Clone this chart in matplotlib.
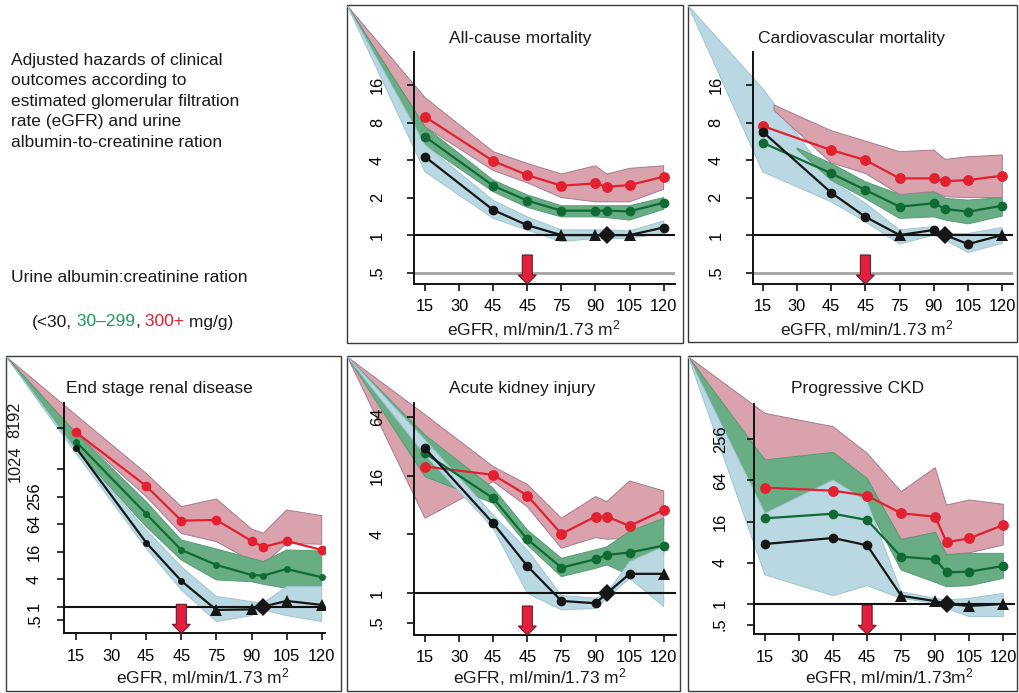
import numpy as np
import matplotlib
matplotlib.use('Agg')
import matplotlib.pyplot as plt
from matplotlib.patches import Polygon, Rectangle
from matplotlib.ticker import NullLocator, FixedLocator, FixedFormatter

plt.rcParams['font.family'] = ['Liberation Sans', 'DejaVu Sans']
plt.rcParams['mathtext.fontset'] = 'custom'
plt.rcParams['mathtext.rm'] = 'Liberation Sans'
plt.rcParams['mathtext.it'] = 'Liberation Sans:italic'

# ---------------- data ----------------
egfr = [15, 45, 60, 75, 90, 95, 105, 120]
xtick_vals = [15, 30, 45, 60, 75, 90, 105, 120]
xtick_labels = ['15', '30', '45', '45', '75', '90', '105', '120']

# All-cause mortality
ac_red = [8.9, 3.93, 3.03, 2.49, 2.6, 2.44, 2.52, 2.94]
ac_green = [6.16, 2.49, 1.89, 1.57, 1.57, 1.57, 1.55, 1.82]
ac_black = [4.25, 1.59, 1.2, 1.0, 1.0, 1.0, 1.0, 1.15]
ac_black_mk = ['o', 'o', 'o', '^', '^', 'D', '^', 'o']
ac_pink_hi = [12.7, 4.67, 3.76, 3.09, 3.6, 3.09, 3.43, 3.6]
ac_pink_lo = [7.4, 3.3, 2.63, 2.0, 1.85, 1.85, 1.85, 2.33]
ac_grn_hi = [7.4, 2.76, 2.1, 1.72, 1.72, 1.72, 1.72, 2.0]
ac_grn_lo = [5.28, 2.23, 1.67, 1.4, 1.4, 1.38, 1.32, 1.61]
ac_blue_hi = [5.3, 1.9, 1.4, 1.1, 1.1, 1.1, 1.08, 1.3]
ac_blue_lo = [3.22, 1.36, 1.1, 0.885, 0.94, 0.94, 0.94, 1.03]

# Cardiovascular mortality
cv_red = [7.5, 4.81, 4.0, 2.85, 2.85, 2.71, 2.76, 3.0]
cv_green = [5.51, 3.13, 2.3, 1.69, 1.8, 1.62, 1.54, 1.72]
cv_black = [6.75, 2.19, 1.4, 1.0, 1.1, 1.0, 0.847, 1.0]
cv_black_mk = ['o', 'o', 'o', '^', 'o', 'D', 'o', '^']
cv_pink_x = [20, 45, 60, 75, 90, 95, 105, 120]
cv_pink_hi = [11.05, 6.88, 5.68, 4.67, 4.81, 4.05, 4.25, 4.39]
cv_pink_lo = [10.0, 3.8, 3.13, 2.12, 2.23, 2.03, 2.0, 2.0]
cv_grn_x = [30, 45, 60, 75, 90, 95, 105, 120]
cv_grn_hi = [5.0, 3.76, 2.68, 2.12, 2.23, 1.97, 1.91, 2.0]
cv_grn_lo = [4.9, 2.76, 1.97, 1.36, 1.4, 1.32, 1.23, 1.42]
cv_blue_hi = [15.0, 2.76, 1.8, 1.1, 1.17, 1.03, 1.03, 1.15]
cv_blue_lo = [3.22, 1.85, 1.28, 0.847, 1.0, 0.91, 0.726, 0.857]

# End stage renal disease
es_red = [6560, 438, 76.4, 79, 27.4, 20.2, 27.4, 17.4]
es_green = [4096, 107, 17.4, 8.17, 4.93, 4.77, 6.67, 4.39]
es_black = [3030, 25.2, 3.65, 0.845, 0.87, 1.0, 1.33, 1.09]
es_black_mk = ['o', 'o', 'o', '^', '^', 'D', '^', '^']
es_pink_hi = [15700, 830, 155, 228, 50, 40.3, 131, 98]
es_pink_lo = [6300, 256, 40, 26.5, 10, 8.2, 24.3, 23.2]
es_grn_hi = [6300, 199, 28.8, 18.3, 11.4, 9.7, 17.4, 16.5]
es_grn_lo = [2690, 56.4, 10.5, 3.84, 3.5, 3.08, 2.52, 2.74]
es_blue_hi = [2690, 47.7, 7.5, 1.66, 1.29, 1.18, 2.74, 2.74]
es_blue_lo = [2270, 18.9, 2.32, 0.47, 0.635, 0.85, 0.635, 0.47]

# Acute kidney injury
ak_red = [19.8, 16.3, 10.0, 4.05, 6.09, 6.09, 4.89, 7.12]
ak_green = [27.1, 9.38, 3.57, 1.83, 2.23, 2.47, 2.61, 3.08]
ak_black = [30.4, 5.2, 1.9, 0.835, 0.79, 1.0, 1.58, 1.58]
ak_black_mk = ['o', 'o', 'o', 'o', 'o', 'D', 'o', '^']
ak_pink_hi = [67.3, 19.8, 13.0, 5.86, 9.76, 8.67, 14.1, 11.15]
ak_pink_lo = [5.86, 13.9, 7.7, 2.89, 3.71, 3.57, 3.66, 5.0]
ak_grn_hi = [41.7, 11.9, 4.45, 2.28, 2.78, 2.99, 4.3, 5.86]
ak_grn_lo = [15.6, 8.34, 3.12, 1.48, 1.8, 1.95, 1.54, 2.47]
ak_blue_hi = [37.1, 6.33, 2.77, 0.95, 0.89, 1.0, 2.11, 3.0]
ak_blue_lo = [26.0, 4.63, 1.0, 0.675, 0.70, 0.89, 1.42, 0.73]

# Progressive CKD
pc_red = [50.3, 45.4, 38.4, 21.2, 18.9, 8.0, 9.13, 14.3]
pc_green = [17.9, 20.9, 16.9, 4.92, 4.5, 2.9, 2.97, 3.6]
pc_black = [7.54, 9.23, 7.21, 1.32, 1.1, 1.0, 0.935, 1.0]
pc_black_mk = ['o', 'o', 'o', '^', '^', 'D', '^', '^']
pc_pink_hi = [614, 392, 160, 43.9, 98.6, 28, 33.2, 28.7]
pc_pink_lo = [120, 150, 62, 8.9, 11.0, 5.3, 5.6, 7.29]
pc_grn_hi = [128, 165, 68.8, 8.63, 11.2, 5.21, 5.5, 5.5]
pc_grn_lo = [21.2, 65, 28, 3.14, 2.07, 1.79, 1.85, 2.37]
pc_blue_hi = [21.2, 65, 31.4, 1.51, 1.21, 1.14, 1.21, 1.43]
pc_blue_lo = [2.66, 1.32, 1.85, 1.21, 1.02, 0.86, 0.653, 0.653]

# ---------------- style ----------------
W, H = 1020, 693
C_RED, C_GRN, C_BLK = '#e3202f', '#0f6a34', '#161616'
B_PINK, B_GRN, B_BLUE = '#d9a2ad', '#69ad85', '#b9d8e2'
E_PINK, E_GRN, E_BLUE = '#a57a90', '#559c72', '#9fc5d3'

fig = plt.figure(figsize=(W / 100, H / 100), dpi=100)


def fx(x):
    return x / W


def fy(y):
    return 1 - y / H


panels = [
    dict(title='All-cause mortality', xlabel='eGFR, ml/min/1.73 m$^2$',
         box=(347, 5, 683, 343), axes=(414, 52, 675, 284), xlim=(10.16, 125.0),
         ylim=(0.405, 29.45), yt=[0.5, 1, 2, 4, 8, 16], ytl=['.5', '1', '2', '4', '8', '16'],
         gray=True, tpos=(520, 43.5), xlpos=(534, 335.5), ypad=16, small=False,
         red=ac_red, green=ac_green, black=ac_black, mk=ac_black_mk,
         bands=[('p', egfr, ac_pink_lo, ac_pink_hi, True),
                ('g', egfr, ac_grn_lo, ac_grn_hi, True),
                ('b', egfr, ac_blue_lo, ac_blue_hi, True)]),
    dict(title='Cardiovascular mortality', xlabel='eGFR, ml/min/1.73 m$^2$',
         box=(688, 5, 1017, 342), axes=(752.7, 52, 1013, 284), xlim=(10.62, 124.7),
         ylim=(0.405, 29.45), yt=[0.5, 1, 2, 4, 8, 16], ytl=['.5', '1', '2', '4', '8', '16'],
         gray=True, tpos=(852, 43.5), xlpos=(867, 335.5), ypad=16, small=False,
         red=cv_red, green=cv_green, black=cv_black, mk=cv_black_mk,
         bands=[('b', egfr, cv_blue_lo, cv_blue_hi, True),
                ('g', cv_grn_x, cv_grn_lo, cv_grn_hi, False),
                ('p', cv_pink_x, cv_pink_lo, cv_pink_hi, False)]),
    dict(title='End stage renal disease', xlabel='eGFR, ml/min/1.73 m$^2$',
         box=(6, 356, 341, 691), axes=(64.3, 403.3, 325, 633.3), xlim=(10.0, 121.4),
         ylim=(0.26, 28400), yt=[0.5, 1, 4, 16, 64, 256, 1024, 8192],
         ytl=['.5', '1', '4', '16', '64', '256', '', ''],
         gray=False, tpos=(159, 393.5), xlpos=(203, 683), ypad=11, small=True,
         red=es_red, green=es_green, black=es_black, mk=es_black_mk,
         bands=[('p', egfr, es_pink_lo, es_pink_hi, True),
                ('g', egfr, es_grn_lo, es_grn_hi, True),
                ('b', egfr, es_blue_lo, es_blue_hi, True)]),
    dict(title='Acute kidney injury', xlabel='eGFR, ml/min/1.73 m$^2$',
         box=(347, 356, 680, 691), axes=(414, 403.3, 676, 635), xlim=(10.16, 125.4),
         ylim=(0.374, 87.9), yt=[0.5, 1, 4, 16, 64], ytl=['.5', '1', '4', '16', '64'],
         gray=False, tpos=(522, 393.5), xlpos=(540, 683), ypad=16, small=False,
         red=ak_red, green=ak_green, black=ak_black, mk=ak_black_mk,
         bands=[('p', egfr, ak_pink_lo, ak_pink_hi, True),
                ('g', egfr, ak_grn_lo, ak_grn_hi, True),
                ('b', egfr, ak_blue_lo, ak_blue_hi, True)]),
    dict(title='Progressive CKD', xlabel='eGFR, ml/min/1.73m$^2$',
         box=(688, 356, 1017, 691), axes=(754.3, 404.3, 1015, 634.3), xlim=(10.29, 125.15),
         ylim=(0.36, 833), yt=[0.5, 1, 4, 16, 64, 256], ytl=['.5', '1', '4', '16', '64', '256'],
         gray=False, tpos=(858, 393.5), xlpos=(889, 683), ypad=14, small=False,
         red=pc_red, green=pc_green, black=pc_black, mk=pc_black_mk,
         bands=[('p', egfr, pc_pink_lo, pc_pink_hi, True),
                ('g', egfr, pc_grn_lo, pc_grn_hi, True),
                ('b', egfr, pc_blue_lo, pc_blue_hi, True)]),
]

band_style = {'p': (B_PINK, E_PINK), 'g': (B_GRN, E_GRN), 'b': (B_BLUE, E_BLUE)}
to_fig = fig.transFigure.inverted()

for P in panels:
    bx0, by0, bx1, by1 = P['box']
    fig.add_artist(Rectangle((fx(bx0), fy(by1)), (bx1 - bx0) / W, (by1 - by0) / H,
                             transform=fig.transFigure, fill=False,
                             edgecolor='#3a3a3a', lw=1.0, zorder=0))
    l, t, r, b = P['axes']
    ax = fig.add_axes([fx(l), fy(b), (r - l) / W, (b - t) / H])
    ax.patch.set_visible(False)
    ax.set_yscale('log')
    ax.set_xlim(*P['xlim'])
    ax.set_ylim(*P['ylim'])
    for s in ('top', 'right'):
        ax.spines[s].set_visible(False)
    for s in ('left', 'bottom'):
        ax.spines[s].set_linewidth(1.4)
        ax.spines[s].set_color('#111111')
    ax.xaxis.set_major_locator(FixedLocator(xtick_vals))
    ax.xaxis.set_major_formatter(FixedFormatter(xtick_labels))
    ax.yaxis.set_major_locator(FixedLocator(P['yt']))
    ax.yaxis.set_major_formatter(FixedFormatter(P['ytl']))
    ax.yaxis.set_minor_locator(NullLocator())
    ax.xaxis.set_minor_locator(NullLocator())
    ax.tick_params(axis='x', direction='out', length=5, width=1.2, pad=6,
                   labelsize=11.8, color='#111111')
    ax.tick_params(axis='y', direction='out', length=5, width=1.2, pad=P['ypad'],
                   labelsize=11.8, labelrotation=90, color='#111111')
    for lab in ax.get_yticklabels():
        lab.set_va('center')

    for key, bxv, lo, hi, tc in P['bands']:
        xs = np.r_[bxv, bxv[::-1]]
        ys = np.r_[hi, lo[::-1]]
        disp = ax.transData.transform(np.column_stack([xs, ys]))
        pts = to_fig.transform(disp)
        if tc:
            pts = np.vstack([[fx(bx0 + 0.5), fy(by0 + 1)], pts])
        fc, ec = band_style[key]
        ax.add_patch(Polygon(pts, closed=True, transform=fig.transFigure,
                             facecolor=fc, edgecolor=ec, lw=0.7, zorder=1,
                             clip_on=False))

    if P['gray']:
        ax.axhline(0.5, color='#a3a3a3', lw=2.0, zorder=2)
    ax.axhline(1, color='#111111', lw=1.5, zorder=2.5)

    ms_red = 7.0 if P['small'] else 7.8
    ms_dot = 5.0 if P['small'] else 7.0
    ax.plot(egfr, P['red'], color=C_RED, lw=1.6, marker='o', ms=ms_red,
            mew=0, zorder=4)
    ax.plot(egfr, P['green'], color=C_GRN, lw=1.6, marker='o', ms=ms_dot,
            mew=0, zorder=4)
    ax.plot(egfr, P['black'], color=C_BLK, lw=1.6, zorder=5)
    xb = np.array(egfr)
    yb = np.array(P['black'])
    mk = np.array(P['mk'])
    for m, ms in (('o', ms_dot), ('^', 8), ('D', 8.8)):
        sel = mk == m
        if sel.any():
            ax.plot(xb[sel], yb[sel], ls='none', marker=m, ms=ms, color=C_BLK,
                    mew=0, zorder=6)

    # red arrow at eGFR 60
    dx = ax.transData.transform((60, 1))[0]
    dy = ax.transAxes.transform((0, 0))[1]
    shape = np.array([(0, 0), (9, 9), (5, 9), (5, 29), (-5, 29), (-5, 9), (-9, 9)])
    arrow = to_fig.transform(np.column_stack([dx + shape[:, 0], dy + shape[:, 1]]))
    ax.add_patch(Polygon(arrow, closed=True, transform=fig.transFigure,
                         facecolor='#e41e3c', edgecolor='#6a1a26', lw=0.8,
                         zorder=7, clip_on=False))

    fig.text(fx(P['tpos'][0]), fy(P['tpos'][1]), P['title'], ha='center',
             va='baseline', fontsize=12.5, color='#1a1a1a')
    fig.text(fx(P['xlpos'][0]), fy(P['xlpos'][1]), P['xlabel'], ha='center',
             va='baseline', fontsize=12.5, color='#1a1a1a')

# extra stacked y labels on the ESRD panel
fig.text(fx(15), fy(420), '8192', rotation=90, ha='center', va='center',
         fontsize=11.8, color='#1a1a1a')
fig.text(fx(15), fy(464), '1024', rotation=90, ha='center', va='center',
         fontsize=11.8, color='#1a1a1a')

# left description
fig.text(fx(11.5), fy(53), 'Adjusted hazards of clinical\noutcomes according to\n'
         'estimated glomerular filtration\nrate (eGFR) and urine\n'
         'albumin-to-creatinine ration', ha='left', va='top', fontsize=12.5,
         linespacing=1.45, color='#1a1a1a')
fig.text(fx(11.5), fy(278), 'Urine albumin:creatinine ration', ha='left',
         va='center', fontsize=12.5, color='#1a1a1a')

renderer = fig.canvas.get_renderer()
xpos = fx(32)
for s, c in (('(<30,', '#1a1a1a'), (' 30\u2013299', '#1a9a55'), (',', '#1a1a1a'),
             (' 300+', '#e3202f'), (' mg/g)', '#1a1a1a')):
    tt = fig.text(xpos, fy(322), s, ha='left', va='center', fontsize=12.5, color=c)
    bb = tt.get_window_extent(renderer)
    xpos = to_fig.transform((bb.x1, bb.y0))[0]

fig.savefig('out.png', dpi=100)
